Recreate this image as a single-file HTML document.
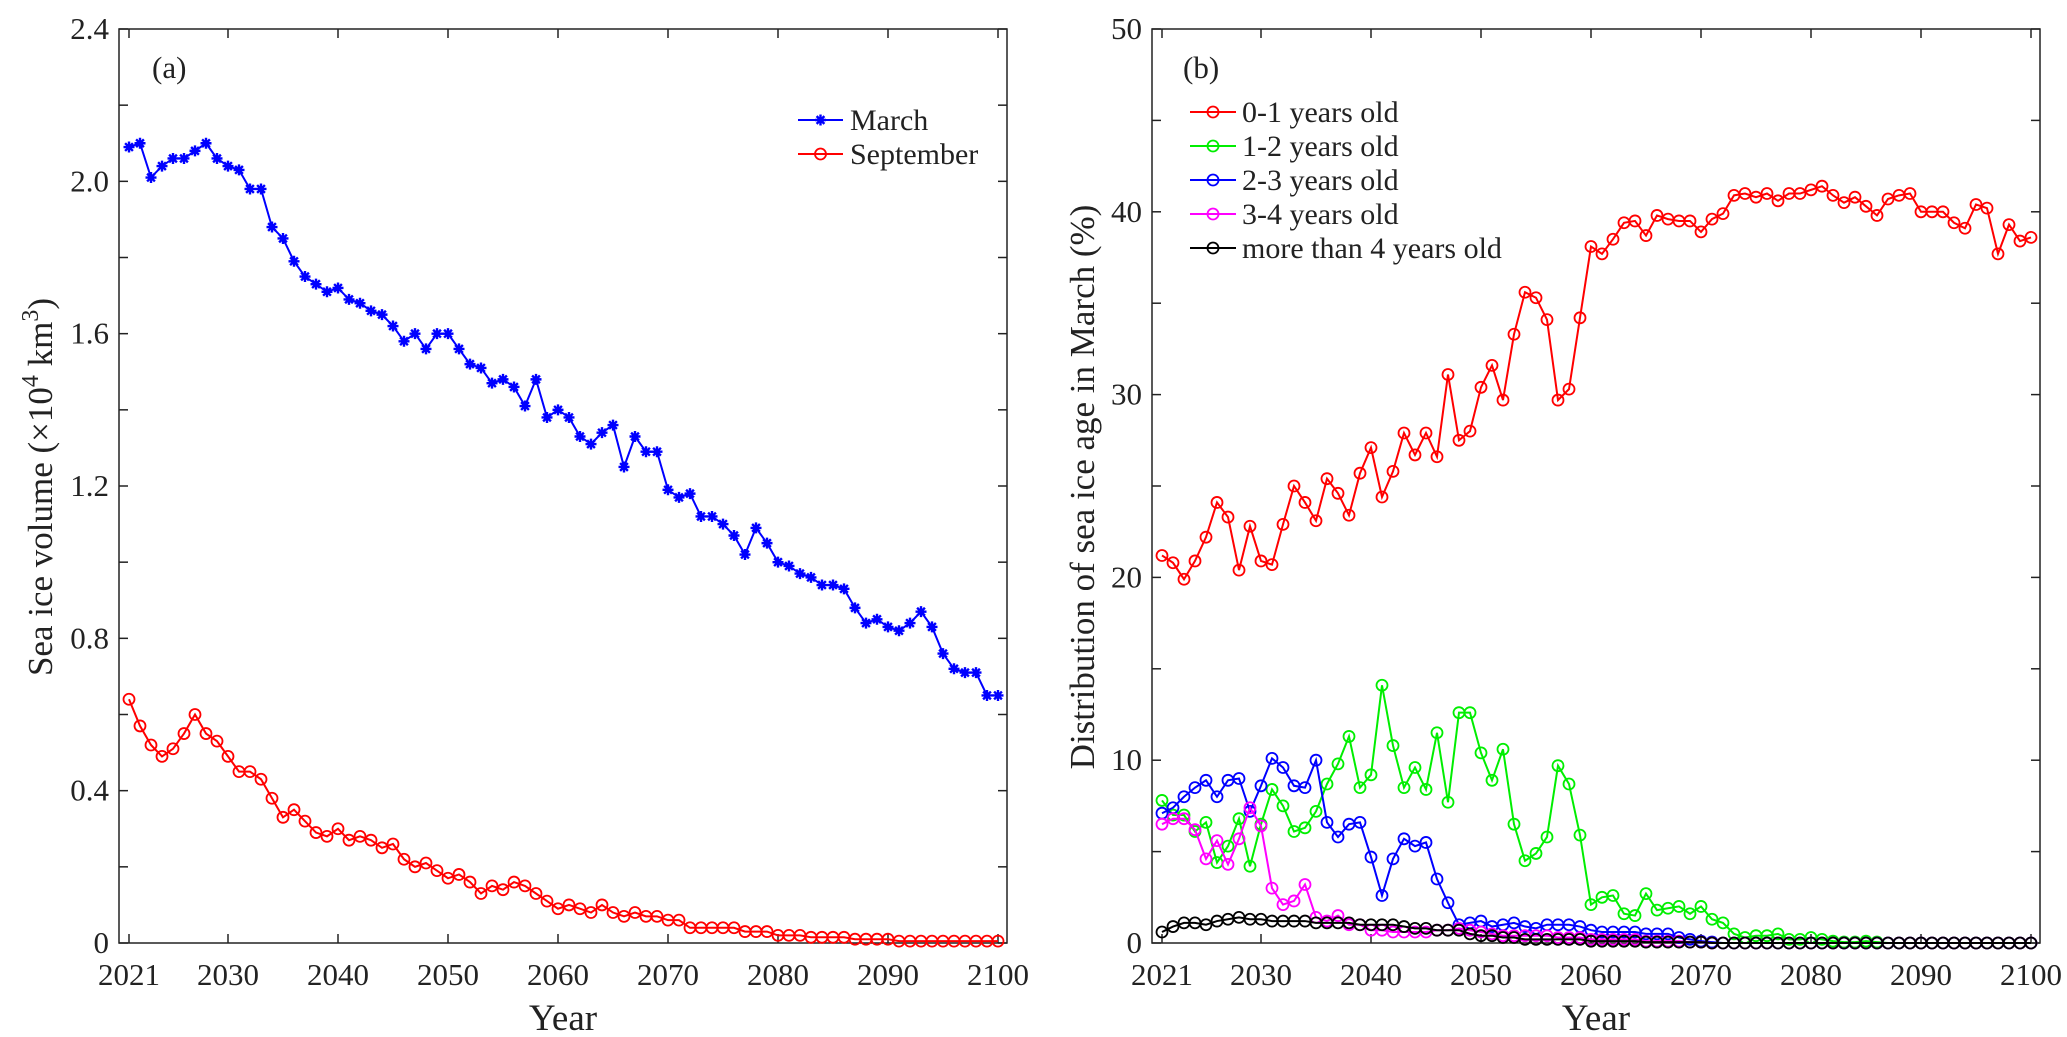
<!DOCTYPE html>
<html><head><meta charset="utf-8"><style>
html,body{margin:0;padding:0;background:#fff;}
svg, svg text{font-family:"Liberation Serif","DejaVu Serif","Times New Roman",serif;}
svg{display:block;}
</style></head><body>
<svg id="fig" width="2067" height="1037" viewBox="0 0 2067 1037" font-family="'Liberation Serif', 'DejaVu Serif', serif" xmlns="http://www.w3.org/2000/svg"></svg>
<script>
const years = [];
for (let y = 2021; y <= 2100; y++) years.push(y);
const marchVol = [2.09,2.10,2.01,2.04,2.06,2.06,2.08,2.10,2.06,2.04, 2.03,1.98,1.98,1.88,1.85,1.79,1.75,1.73,1.71,1.72, 1.69,1.68,1.66,1.65,1.62,1.58,1.60,1.56,1.60,1.60, 1.56,1.52,1.51,1.47,1.48,1.46,1.41,1.48,1.38,1.40, 1.38,1.33,1.31,1.34,1.36,1.25,1.33,1.29,1.29,1.19, 1.17,1.18,1.12,1.12,1.10,1.07,1.02,1.09,1.05,1.00, 0.99,0.97,0.96,0.94,0.94,0.93,0.88,0.84,0.85,0.83, 0.82,0.84,0.87,0.83,0.76,0.72,0.71,0.71,0.65,0.65];
const septVol = [0.64,0.57,0.52,0.49,0.51,0.55,0.60,0.55,0.53,0.49, 0.45,0.45,0.43,0.38,0.33,0.35,0.32,0.29,0.28,0.30, 0.27,0.28,0.27,0.25,0.26,0.22,0.20,0.21,0.19,0.17, 0.18,0.16,0.13,0.15,0.14,0.16,0.15,0.13,0.11,0.09, 0.10,0.09,0.08,0.10,0.08,0.07,0.08,0.07,0.07,0.06, 0.06,0.04,0.04,0.04,0.04,0.04,0.03,0.03,0.03,0.02, 0.02,0.02,0.015,0.015,0.015,0.015,0.01,0.01,0.01,0.01, 0.005,0.005,0.005,0.005,0.005,0.005,0.005,0.005,0.005,0.005];
const age01 = [21.2,20.8,19.9,20.9,22.2,24.1,23.3,20.4,22.8,20.9, 20.7,22.9,25.0,24.1,23.1,25.4,24.6,23.4,25.7,27.1, 24.4,25.8,27.9,26.7,27.9,26.6,31.1,27.5,28.0,30.4, 31.6,29.7,33.3,35.6,35.3,34.1,29.7,30.3,34.2,38.1, 37.7,38.5,39.4,39.5,38.7,39.8,39.6,39.5,39.5,38.9, 39.6,39.9,40.9,41.0,40.8,41.0,40.6,41.0,41.0,41.2, 41.4,40.9,40.5,40.8,40.3,39.8,40.7,40.9,41.0,40.0, 40.0,40.0,39.4,39.1,40.4,40.2,37.7,39.3,38.4,38.6];
const age12 = [7.8,7.0,7.0,6.1,6.6,4.4,5.3,6.8,4.2,6.5, 8.4,7.5,6.1,6.3,7.2,8.7,9.8,11.3,8.5,9.2, 14.1,10.8,8.5,9.6,8.4,11.5,7.7,12.6,12.6,10.4, 8.9,10.6,6.5,4.5,4.9,5.8,9.7,8.7,5.9,2.1, 2.5,2.6,1.6,1.5,2.7,1.8,1.9,2.0,1.6,2.0, 1.3,1.1,0.5,0.3,0.4,0.4,0.5,0.2,0.2,0.3, 0.2,0.1,0.05,0.05,0.1,0.05,0,0,0,0, 0,0,0,0,0,0,0,0,0,0];
const age23 = [7.1,7.4,8.0,8.5,8.9,8.0,8.9,9.0,7.2,8.6, 10.1,9.6,8.6,8.5,10.0,6.6,5.8,6.5,6.6,4.7, 2.6,4.6,5.7,5.3,5.5,3.5,2.2,1.0,1.1,1.2, 0.9,1.0,1.1,0.9,0.8,1.0,1.0,1.0,0.9,0.7, 0.6,0.6,0.6,0.6,0.5,0.5,0.5,0.3,0.2,0.1, 0.05,0,0,0,0,0,0,0,0,0, 0,0,0,0,0,0,0,0,0,0, 0,0,0,0,0,0,0,0,0,0];
const age34 = [6.5,6.8,6.8,6.2,4.6,5.6,4.3,5.7,7.4,6.4, 3.0,2.1,2.3,3.2,1.4,1.2,1.5,1.0,1.0,0.7, 0.7,0.6,0.6,0.6,0.6,0.7,0.7,0.8,0.7,0.6, 0.5,0.4,0.4,0.4,0.4,0.4,0.3,0.3,0.3,0.2, 0.2,0.2,0.2,0.2,0.1,0.1,0.1,0.1,0.05,0.05, 0,0,0,0,0,0,0,0,0,0, 0,0,0,0,0,0,0,0,0,0, 0,0,0,0,0,0,0,0,0,0];
const age4p = [0.6,0.9,1.1,1.1,1.0,1.2,1.3,1.4,1.3,1.3, 1.2,1.2,1.2,1.2,1.1,1.1,1.1,1.1,1.0,1.0, 1.0,1.0,0.9,0.8,0.8,0.7,0.7,0.7,0.5,0.4, 0.4,0.3,0.3,0.2,0.2,0.2,0.2,0.2,0.2,0.1, 0.1,0.1,0.1,0.1,0.05,0.05,0.05,0.05,0.05,0.05, 0,0,0,0,0,0,0,0,0,0, 0,0,0,0,0,0,0,0,0,0, 0,0,0,0,0,0,0,0,0,0];
const xTickLabels = [2021,2030,2040,2050,2060,2070,2080,2090,2100];
const leftYTicks = [0,0.2,0.4,0.6,0.8,1.0,1.2,1.4,1.6,1.8,2.0,2.2,2.4];
const leftYLabels = ["0","0.4","0.8","1.2","1.6","2.0","2.4"];
const rightYTicks = [0,5,10,15,20,25,30,35,40,45,50];
const rightYLabels = ["0","10","20","30","40","50"];

const NS = "http://www.w3.org/2000/svg";
const FONT = "'Liberation Serif', 'DejaVu Serif', serif";
const svg = document.getElementById("fig");
function mk(tag, attrs, parent) {
  const e = document.createElementNS(NS, tag);
  for (const k in attrs) e.setAttribute(k, attrs[k]);
  if (tag === "text") e.setAttribute("font-family", FONT);
  (parent || svg).appendChild(e);
  return e;
}

function panel(p) {
  const g = mk("g", {});
  
  
  const xs = y => p.x2021 + (y - 2021) * (p.x2100 - p.x2021) / 79;
  const ys = v => p.bottom - v / p.ymax * (p.bottom - p.top);
  const box = mk("rect", {x:p.left, y:p.top, width:p.right-p.left, height:p.bottom-p.top, fill:"none", stroke:"#222", "stroke-width":1.5}, g);
  
  
  xTickLabels.forEach(t => {
    const x = xs(t);
    mk("line", {x1:x, x2:x, y1:p.bottom, y2:p.bottom-9, stroke:"#222", "stroke-width":1.5}, g);
    mk("line", {x1:x, x2:x, y1:p.top, y2:p.top+9, stroke:"#222", "stroke-width":1.5}, g);
    const tx = mk("text", {x:x, y:p.bottom+42, "font-size":31, "text-anchor":"middle", fill:"#222"}, g);
    tx.textContent = t;
    
    
  });
  p.yTicks.forEach(t => {
    const y = ys(t);
    mk("line", {x1:p.left, x2:p.left+9, y1:y, y2:y, stroke:"#222", "stroke-width":1.5}, g);
    mk("line", {x1:p.right, x2:p.right-9, y1:y, y2:y, stroke:"#222", "stroke-width":1.5}, g);
  });
  p.yLabels.forEach(l => {
    const y = ys(parseFloat(l));
    const tx = mk("text", {x:p.left-10, y:y+10, "font-size":31, "text-anchor":"end", fill:"#222"}, g);
    tx.textContent = l;
    
    
  });
  const xt = mk("text", {x:(p.left+p.right)/2, y:1030, "font-size":37, "text-anchor":"middle", fill:"#222"}, g);
  xt.textContent = "Year";
  
  
  const pl = mk("text", {x:p.labelX, y:78, "font-size":31, fill:"#222"}, g);
  pl.textContent = p.label;
  
  
  return {g, xs, ys};
}

function marker(type, x, y, color, parent) {
  if (type === "star") {
    const r = 5.5;
    let d = "";
    for (let i = 0; i < 4; i++) {
      const a = i * Math.PI / 4;
      d += `M${x - r*Math.cos(a)},${y - r*Math.sin(a)}L${x + r*Math.cos(a)},${y + r*Math.sin(a)}`;
    }
    mk("path", {d, stroke:color, "stroke-width":2.4, fill:"none"}, parent);
  } else {
    mk("circle", {cx:x, cy:y, r:5.5, fill:"none", stroke:color, "stroke-width":1.8}, parent);
  }
}

function series(ax, vals, color, type, name) {
  const g = mk("g", {}, ax.g);
  
  
  const pts = vals.map((v, i) => ax.xs(years[i]) + "," + ax.ys(v)).join(" ");
  mk("polyline", {points:pts, fill:"none", stroke:color, "stroke-width":2}, g);
  vals.forEach((v, i) => marker(type, ax.xs(years[i]), ax.ys(v), color, g));
}

function legend(ax, items, x1, x2, tx, ys0, dy) {
  const g = mk("g", {}, ax.g);
  
  
  items.forEach((it, i) => {
    const y = ys0 + i * dy;
    const e = mk("g", {}, g);
    
    
    mk("line", {x1, x2, y1:y, y2:y, stroke:it.c, "stroke-width":2}, e);
    marker(it.m, (x1+x2)/2, y, it.c, e);
    const t = mk("text", {x:tx, y:y+10, "font-size":30, fill:"#222"}, e);
    t.textContent = it.t;
  });
}

const A = panel({name:"panel-a-volume", left:119, right:1007, top:29, bottom:943, x2021:129, x2100:998, ymax:2.4, yTicks:leftYTicks, yLabels:leftYLabels, label:"(a)", labelX:152});
const ya = mk("text", {transform:"translate(52,487) rotate(-90)", "font-size":35, "text-anchor":"middle", fill:"#222"});


ya.innerHTML = 'Sea ice volume (\u00d710<tspan dy="-14" font-size="24">4</tspan><tspan dy="14"> km</tspan><tspan dy="-14" font-size="24">3</tspan><tspan dy="14">)</tspan>';
series(A, marchVol, "#0000ff", "star", "series-march");
series(A, septVol, "#ff0000", "circle", "series-september");
legend(A, [{t:"March", c:"#0000ff", m:"star"}, {t:"September", c:"#ff0000", m:"circle"}], 798, 843, 850, 120, 34);

const B = panel({name:"panel-b-age", left:1152, right:2040, top:29, bottom:943, x2021:1162, x2100:2031, ymax:50, yTicks:rightYTicks, yLabels:rightYLabels, label:"(b)", labelX:1183});
const yb = mk("text", {transform:"translate(1094,487) rotate(-90)", "font-size":35, "text-anchor":"middle", fill:"#222"});


yb.textContent = "Distribution of sea ice age in March (%)";
series(B, age01, "#ff0000", "circle", "series-0-1-years");
series(B, age12, "#00ee00", "circle", "series-1-2-years");
series(B, age23, "#0000ff", "circle", "series-2-3-years");
series(B, age34, "#ff00ff", "circle", "series-3-4-years");
series(B, age4p, "#000000", "circle", "series-4plus-years");
legend(B, [{t:"0-1 years old", c:"#ff0000", m:"circle"}, {t:"1-2 years old", c:"#00ee00", m:"circle"}, {t:"2-3 years old", c:"#0000ff", m:"circle"}, {t:"3-4 years old", c:"#ff00ff", m:"circle"}, {t:"more than 4 years old", c:"#000000", m:"circle"}], 1190, 1236, 1242, 112, 34);
</script>
</body></html>
